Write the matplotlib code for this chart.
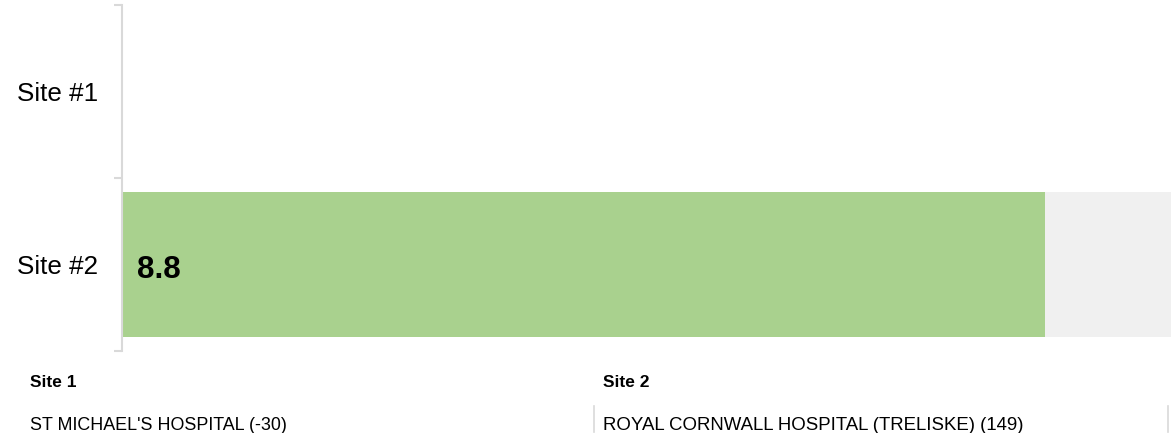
import numpy as np
import matplotlib.pyplot as plt
from matplotlib.lines import Line2D

plt.rcParams['font.family'] = ['Liberation Sans', 'DejaVu Sans']

sites = ["Site #1", "Site #2"]
scores = [np.nan, 8.8]
max_score = 10
footer_titles = ["Site 1", "Site 2"]
footer_names = ["ST MICHAEL'S HOSPITAL (-30)", "ROYAL CORNWALL HOSPITAL (TRELISKE) (149)"]

W, H = 1171, 433
fig = plt.figure(figsize=(W / 100, H / 100), dpi=100)
ax = fig.add_axes([122 / W, 82 / H, 1 - 122 / W, (351 - 5) / H])

ypos = np.arange(len(sites))
for y, v in zip(ypos, scores):
    if np.isnan(v):
        continue
    # grey track behind the score bar
    ax.barh(y, max_score, height=0.84, color='#f0f0f0', zorder=1)
    ax.barh(y, v, height=0.84, color='#a9d18e', zorder=2)
    ax.annotate(f"{v:.1f}", xy=(0, y), xytext=(11, -4), textcoords='offset points',
                ha='left', va='center', fontsize=22.5, fontweight='bold', zorder=3)

ax.set_xlim(0, max_score)
ax.set_ylim(len(sites) - 0.5, -0.5)

for s in ['top', 'right', 'bottom']:
    ax.spines[s].set_visible(False)
ax.spines['left'].set_color('#d9d9d9')
ax.spines['left'].set_linewidth(1.5)
ax.set_xticks([])

# category boundaries as major ticks, names on minor ticks
ax.set_yticks(np.arange(-0.5, len(sites), 1.0))
ax.set_yticklabels([])
ax.tick_params(axis='y', which='major', length=6, width=1.5, color='#d9d9d9')
ax.set_yticks(ypos, minor=True)
ax.set_yticklabels(sites, minor=True, fontsize=18.7)
ax.tick_params(axis='y', which='minor', length=0, pad=17)

# footer with the site names
col_x = [30, 603]
name_sizes = [12.85, 13.4]
for x, title, name, fs in zip(col_x, footer_titles, footer_names, name_sizes):
    fig.text(x / W, 1 - 387 / H, title, fontsize=12.5, fontweight='bold', va='baseline')
    fig.text(x / W, 1 - 430 / H, name, fontsize=fs, va='baseline')

for lx in [594, 1168]:
    fig.add_artist(Line2D([lx / W, lx / W], [1 - 406 / H, 1 - 432 / H],
                          color='#d9d9d9', linewidth=1.2))

fig.savefig('out.png', dpi=100)
